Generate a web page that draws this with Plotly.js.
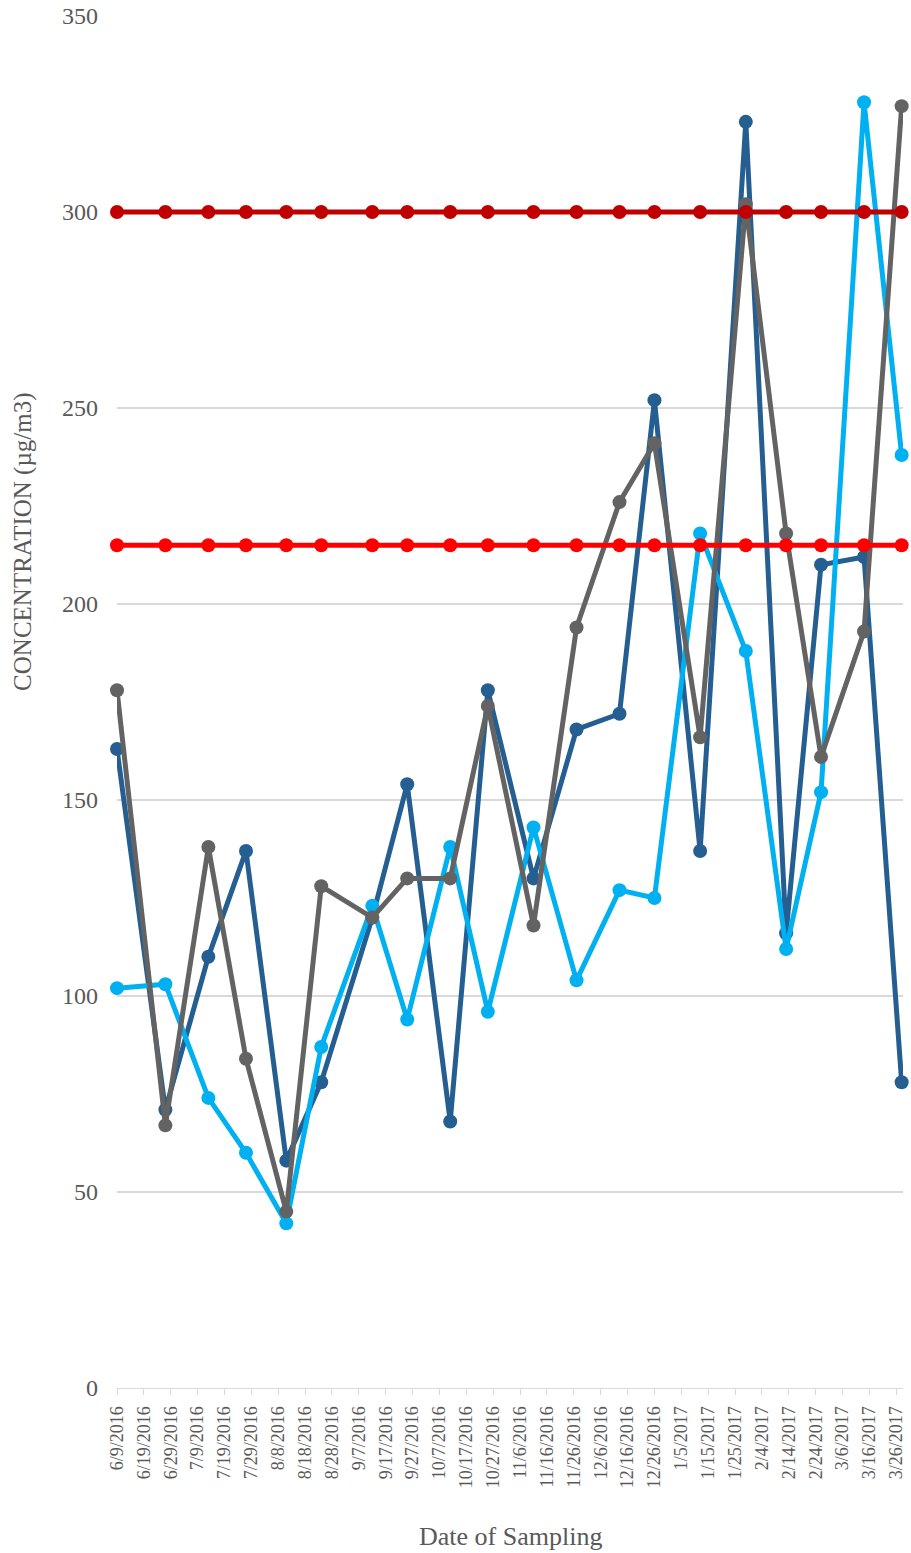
<!DOCTYPE html>
<html>
<head>
<meta charset="utf-8">
<script src="https://cdn.plot.ly/plotly-3.0.1.min.js"></script>
<style>
  html, body { margin: 0; padding: 0; background: #ffffff; }
  #chart { width: 911px; height: 1553px; }
</style>
</head>
<body>
<div id="chart"></div>
<script>
// Sampling dates
const dates = [
  '2016-06-09', '2016-06-27', '2016-07-13', '2016-07-27', '2016-08-11',
  '2016-08-24', '2016-09-12', '2016-09-25', '2016-10-11', '2016-10-25',
  '2016-11-11', '2016-11-27', '2016-12-13', '2016-12-26', '2017-01-12',
  '2017-01-29', '2017-02-13', '2017-02-26', '2017-03-14', '2017-03-28'
];
// Concentration series (µg/m3)
const seriesDarkBlue = [163, 71, 110, 137, 58, 78, 120, 154, 68, 178, 130, 168, 172, 252, 137, 323, 116, 210, 212, 78];
const seriesLightBlue = [102, 103, 74, 60, 42, 87, 123, 94, 138, 96, 143, 104, 127, 125, 218, 188, 112, 152, 328, 238];
const seriesGray = [178, 67, 138, 84, 45, 128, 120, 130, 130, 174, 118, 194, 226, 241, 166, 302, 218, 161, 193, 327];
// Limit lines
const limitHigh = [300, 300, 300, 300, 300, 300, 300, 300, 300, 300, 300, 300, 300, 300, 300, 300, 300, 300, 300, 300];
const limitLow = [215, 215, 215, 215, 215, 215, 215, 215, 215, 215, 215, 215, 215, 215, 215, 215, 215, 215, 215, 215];

const yTicks = [0, 50, 100, 150, 200, 250, 300, 350];

const FONT = 'Liberation Serif';
const TXT = '#595959';

function series(name, y, color) {
  return {
    type: 'scatter', mode: 'lines+markers', name: name,
    x: dates, y: y,
    line: { color: color, width: 5 },
    marker: { color: color, size: 14 },
    cliponaxis: false
  };
}

const data = [
  series('Series 1', seriesDarkBlue, '#255E91'),
  series('Series 2', seriesLightBlue, '#00B0F0'),
  series('Series 3', seriesGray, '#636363'),
  series('Limit 300', limitHigh, '#C00000'),
  series('Limit 215', limitLow, '#FF0000')
];

const layout = {
  width: 911, height: 1553,
  margin: { l: 117, r: 8, t: 16, b: 165 },
  paper_bgcolor: '#ffffff', plot_bgcolor: '#ffffff',
  showlegend: false,
  font: { family: FONT, color: TXT },
  xaxis: {
    type: 'date',
    range: ['2016-06-09', '2017-03-28 12:00'],
    tick0: '2016-06-09',
    dtick: 864000000,
    tickformat: '%-m/%-d/%Y',
    tickangle: -90,
    tickfont: { family: FONT, size: 18, color: TXT },
    ticks: 'outside', ticklen: 6, tickcolor: '#d9d9d9', tickwidth: 1,
    ticklabelstandoff: 4,
    showline: true, linecolor: '#d9d9d9', linewidth: 1,
    showgrid: false, zeroline: false,
    fixedrange: true
  },
  yaxis: {
    range: [0, 350],
    tickvals: yTicks,
    ticktext: yTicks.map(String),
    tickfont: { family: FONT, size: 24, color: TXT },
    ticks: '',
    ticklabelstandoff: 18,
    showgrid: true, gridcolor: '#d9d9d9', gridwidth: 1.3,
    zeroline: false, showline: false,
    fixedrange: true
  },
  annotations: [
    {
      text: 'CONCENTRATION (µg/m3)',
      xref: 'paper', yref: 'paper',
      x: -0.1196, y: 0.6167,
      xanchor: 'center', yanchor: 'middle',
      textangle: -90, showarrow: false,
      font: { family: FONT, size: 25, color: TXT }
    },
    {
      text: 'Date of Sampling',
      xref: 'paper', yref: 'paper',
      x: 0.5, y: -0.108,
      xanchor: 'center', yanchor: 'middle',
      showarrow: false,
      font: { family: FONT, size: 26, color: TXT }
    }
  ]
};

Plotly.newPlot('chart', data, layout, { displayModeBar: false, staticPlot: true });
</script>
</body>
</html>
